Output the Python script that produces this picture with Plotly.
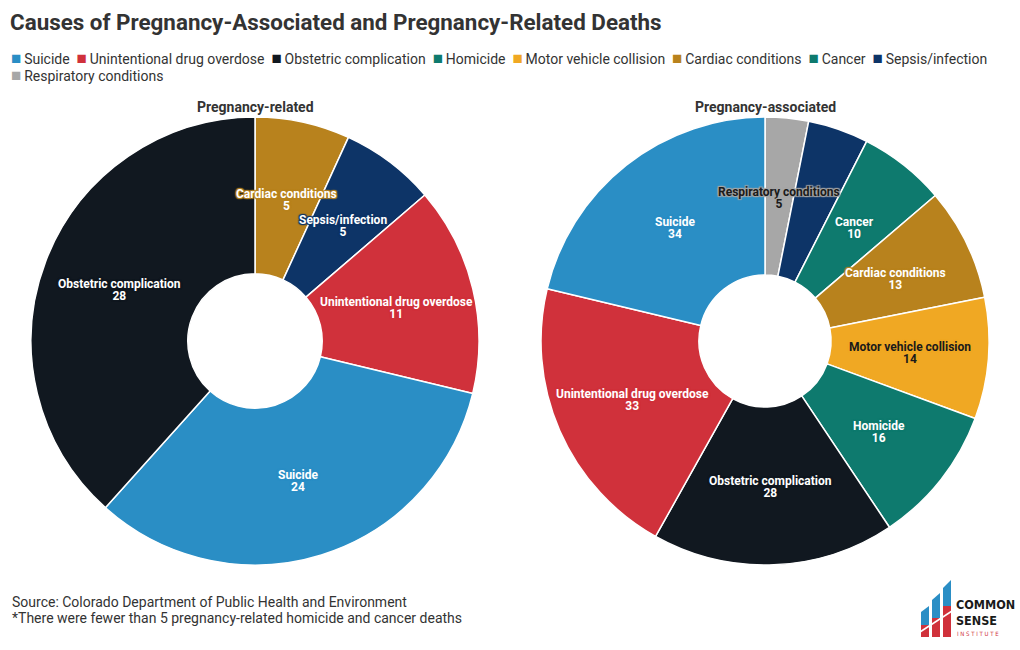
import math
import plotly.graph_objects as go

# ---------------- data ----------------
title_text = "Causes of Pregnancy-Associated and Pregnancy-Related Deaths"

legend_labels = ["Suicide", "Unintentional drug overdose", "Obstetric complication",
                 "Homicide", "Motor vehicle collision", "Cardiac conditions", "Cancer",
                 "Sepsis/infection", "Respiratory conditions"]

related_title = "Pregnancy-related"
related_labels = ["Cardiac conditions", "Sepsis/infection", "Unintentional drug overdose",
                  "Suicide", "Obstetric complication"]
related_values = [5, 5, 11, 24, 28]

associated_title = "Pregnancy-associated"
associated_labels = ["Respiratory conditions", "Sepsis/infection", "Cancer",
                     "Cardiac conditions", "Motor vehicle collision", "Homicide",
                     "Obstetric complication", "Unintentional drug overdose", "Suicide"]
associated_values = [5, 7, 10, 13, 14, 16, 28, 33, 34]
associated_hidden_labels = ["Sepsis/infection"]   # value label not printed in the reference

source_lines = ["Source: Colorado Department of Public Health and Environment",
                "*There were fewer than 5 pregnancy-related homicide and cancer deaths"]

# ---------------- style ----------------
colors = {
    "Suicide": "#2a8ec5",
    "Unintentional drug overdose": "#d0313b",
    "Obstetric complication": "#111820",
    "Homicide": "#0e7a6e",
    "Motor vehicle collision": "#f0a823",
    "Cardiac conditions": "#b8821d",
    "Cancer": "#0e7a6e",
    "Sepsis/infection": "#0d3467",
    "Respiratory conditions": "#a7a7a7",
}
dark_text = {"Motor vehicle collision", "Respiratory conditions"}
TXT = "#333333"

W, H = 1020, 650
T, B = 117, 85
PH = H - T - B  # 448
R = PH / 2
CY = T + R


def px_x(x):
    return x / W


def px_y(y):
    return (H - B - y) / PH


fig = go.Figure()

pies = [
    dict(title=related_title, labels=related_labels, values=related_values,
         hidden=[], cx=255, hole=0.3),
    dict(title=associated_title, labels=associated_labels, values=associated_values,
         hidden=associated_hidden_labels, cx=765, hole=0.295),
]

annotations = []
for p in pies:
    fig.add_trace(go.Pie(
        labels=p["labels"], values=p["values"], textinfo="none",
        hole=p["hole"], sort=False, direction="clockwise", rotation=0,
        marker=dict(colors=[colors[l] for l in p["labels"]],
                    line=dict(color="white", width=1.5)),
        domain=dict(x=[px_x(p["cx"] - R), px_x(p["cx"] + R)], y=[0, 1]),
        hoverinfo="label+value", name=p["title"], showlegend=False,
    ))
    annotations.append(dict(
        text=f"<b>{p['title']}</b>", x=px_x(p["cx"]), y=px_y(107),
        xref="paper", yref="paper", showarrow=False, xanchor="center", yanchor="middle",
        font=dict(family="Roboto", size=14, color=TXT)))
    # slice labels at the mid-angle of each slice, mid-way through the ring
    total = sum(p["values"])
    rmid = R * (1 + p["hole"]) / 2
    cum = 0
    for lab, val in zip(p["labels"], p["values"]):
        mid = (cum + val / 2) / total * 2 * math.pi
        cum += val
        if lab in p["hidden"]:
            continue
        x = p["cx"] + rmid * math.sin(mid)
        y = CY - rmid * math.cos(mid)
        c = colors[lab]
        # small base size gives the tight line spacing of the reference;
        # the spans carry the real 12px glyph size
        f = dict(family="Roboto", size=9,
                 color="#1a1a1a" if lab in dark_text else "#ffffff",
                 shadow=f"1px 1px 1px {c}, -1px -1px 1px {c}, "
                        f"1px -1px 1px {c}, -1px 1px 1px {c}, 0 0 2px {c}")
        txt = (f"<span style='font-size:12px'><b>{lab}</b></span><br>"
               f"<span style='font-size:12px'><b>{val}</b></span>")
        annotations.append(dict(
            text=txt, x=px_x(x), y=px_y(y + 1), align="center",
            xref="paper", yref="paper", showarrow=False,
            xanchor="center", yanchor="middle", font=f))

# legend (flowing, two rows as in the reference)
legend_rows = [legend_labels[:8], legend_labels[8:]]
for i, row in enumerate(legend_rows):
    parts = [f"<span style='color:{colors[l]};font-size:17px'>\u25a0</span>\u2009{l}"
             for l in row]
    annotations.append(dict(
        text="\u00a0\u00a0".join(parts), x=px_x(9), y=px_y(58 + 17 * i),
        xref="paper", yref="paper", showarrow=False, xanchor="left", yanchor="middle",
        align="left", font=dict(family="Roboto", size=14, color=TXT)))

for i, line in enumerate(source_lines):
    annotations.append(dict(
        text=line, x=px_x(10), y=px_y(602 + 16 * i),
        xref="paper", yref="paper", showarrow=False, xanchor="left", yanchor="middle",
        align="left", font=dict(family="Roboto", size=14, color=TXT)))

# logo text
annotations += [
    dict(text="<b>COMMON</b>", x=px_x(954), y=px_y(604),
         xref="paper", yref="paper", showarrow=False, xanchor="left", yanchor="middle",
         font=dict(family="DejaVu Sans Condensed", size=12.5, color="#1a1a1a")),
    dict(text="<b>SENSE</b>", x=px_x(954), y=px_y(620),
         xref="paper", yref="paper", showarrow=False, xanchor="left", yanchor="middle",
         font=dict(family="DejaVu Sans Condensed", size=12.5, color="#1a1a1a")),
    dict(text="I N S T I T U T E", x=px_x(955), y=px_y(633),
         xref="paper", yref="paper", showarrow=False, xanchor="left", yanchor="middle",
         font=dict(family="DejaVu Sans Condensed", size=6, color="#d0313b")),
]

# logo shapes
shapes = []
logo_cols = [(921, 929, 612, 606, 625), (932, 940, 600, 593, 618), (943, 951, 588, 580, 606)]
for x0, x1, ytl, ytr, ymid in logo_cols:
    shapes.append(dict(type="path", xref="paper", yref="paper",
                       path=f"M {px_x(x0)},{px_y(ytl)} L {px_x(x1)},{px_y(ytr)} "
                            f"L {px_x(x1)},{px_y(ymid)} L {px_x(x0)},{px_y(ymid)} Z",
                       fillcolor="#2a8ec5", line=dict(width=0)))
    shapes.append(dict(type="rect", xref="paper", yref="paper",
                       x0=px_x(x0), x1=px_x(x1), y0=px_y(637), y1=px_y(ymid),
                       fillcolor="#d0313b", line=dict(width=0)))
shapes.append(dict(type="line", xref="paper", yref="paper",
                   x0=px_x(920), y0=px_y(632), x1=px_x(952), y1=px_y(611),
                   line=dict(color="white", width=1.5)))

fig.update_layout(
    width=W, height=H,
    margin=dict(l=0, r=0, t=T, b=B),
    paper_bgcolor="white", plot_bgcolor="white",
    font=dict(family="Roboto", color=TXT),
    title=dict(text=f"<b>{title_text}</b>", x=px_x(10), xanchor="left",
               yref="container", y=1 - 22 / H, yanchor="middle",
               font=dict(family="Roboto", size=22.4, color=TXT)),
    showlegend=False,
    annotations=annotations,
    shapes=shapes,
)

fig.write_html("out.html", config={"displayModeBar": False},
               post_script="document.body.style.margin='0';")
